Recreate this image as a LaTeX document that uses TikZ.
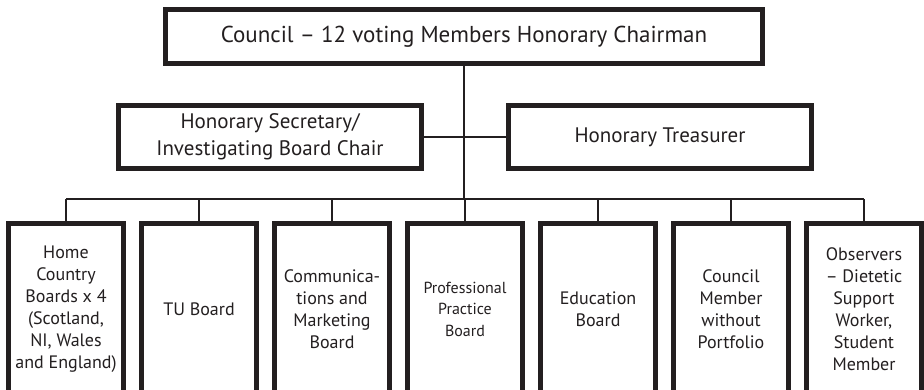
\documentclass[tikz,border=0pt]{standalone}
\usepackage{fontspec}
\setmainfont{PT Sans}
\definecolor{ink}{HTML}{231F20}
\begin{document}
\begin{tikzpicture}[x=1pt,y=-1pt,
  heavy/.style={draw=ink,text=ink,line width=5pt,rectangle,inner sep=0pt,outer sep=0pt,fill=white,align=center},
  topbox/.style={heavy,minimum width=597pt,minimum height=54pt,font=\fontsize{23}{27}\selectfont},
  midbox/.style={heavy,minimum width=303pt,minimum height=63pt,font=\fontsize{21}{27}\selectfont},
  lowbox/.style={heavy,minimum width=115pt,minimum height=171pt,font=\fontsize{18}{22}\selectfont},
  conn/.style={draw=ink,line width=2pt}]
\useasboundingbox (0,0) rectangle (924,389);
\clip (0,0) rectangle (924,389);
\node[topbox] (council) at (464,36.5) {Council -- 12 voting Members Honorary Chairman};
\node[midbox] (sec) at (270,137) {Honorary Secretary/\\Investigating Board Chair};
\node[midbox] (tre) at (660,137) {Honorary Treasurer};
\coordinate (bus) at (465,199);
\node[lowbox] (b1) at (66,309) {Home\\Country\\Boards x 4\\(Scotland,\\NI, Wales\\and England)};
\node[lowbox] (b2) at (199,309) {TU Board};
\node[lowbox] (b3) at (332,309) {Communica-\\tions and\\Marketing\\Board};
\node[lowbox,font=\fontsize{16}{21.5}\selectfont] (b4) at (465,309) {Professional\\Practice\\Board};
\node[lowbox] (b5) at (598,309) {Education\\Board};
\node[lowbox] (b6) at (731,309) {Council\\Member\\without\\Portfolio};
\node[lowbox] (b7) at (864,309) {Observers\\-- Dietetic\\Support\\Worker,\\Student\\Member};
\draw[conn] (council.south) -- (council.south |- bus);
\draw[conn] (sec.east) -- (tre.west);
\draw[conn] (b1.north |- bus) -- (b7.north |- bus);
\foreach \b in {b1,b2,b3,b4,b5,b6,b7} {\draw[conn] (\b.north) -- (\b.north |- bus);}
\end{tikzpicture}
\end{document}
